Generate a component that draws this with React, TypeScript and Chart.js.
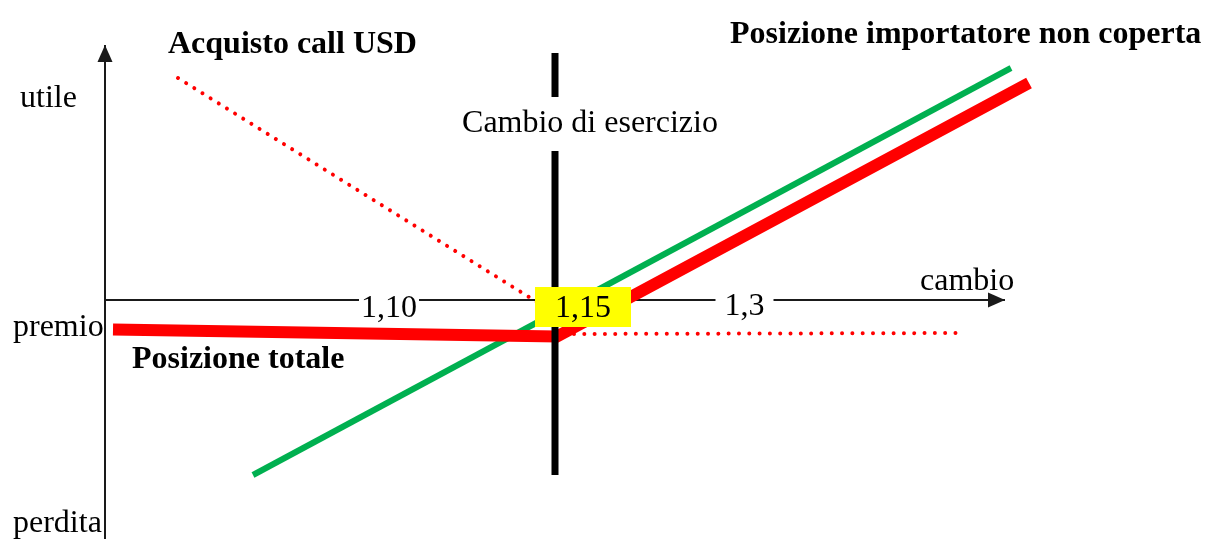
import React, { useEffect, useRef } from "react";
import { Chart, registerables } from "chart.js";

Chart.register(...registerables);

// Schematic units: x = exchange rate axis (arbitrary units), y = profit / loss
const yAxisLine = [{ x: 0, y: -23.9 }, { x: 0, y: 25.5 }];
const xAxisLine = [{ x: 0, y: 0 }, { x: 90, y: 0 }];
const strikeLine = [{ x: 45, y: -17.5 }, { x: 45, y: 24.7 }];
const unhedgedPosition = [{ x: 14.8, y: -17.5 }, { x: 90.6, y: 23.2 }];
const totalPosition = [{ x: 0.8, y: -2.95 }, { x: 45.2, y: -3.65 }, { x: 92.4, y: 21.7 }];
const callPayoffLeft = [{ x: 7.3, y: 22.2 }, { x: 44.8, y: -1.2 }];
const callPayoffRight = [{ x: 46.9, y: -3.4 }, { x: 85.8, y: -3.3 }];

const tickLabels = ["1,10", "1,15", "1,3"];
const tickValues = [28.4, 47.8, 63.95];

const yLabels = ["utile", "premio", "perdita"];
const yLabelValues = [19.3, -3.6, -23.2];

const FONT = '"Liberation Serif", "Times New Roman", serif';
const FS = 32;

type Ann = {
  text: string;
  x: number;
  y: number;
  bold?: boolean;
  align?: "left" | "center";
  bg?: string;
  padX?: number;
  top?: number;
  bottom?: number;
};

const annotations: Ann[] = [
  { text: "Acquisto call USD", x: 6.3, y: 24.7, bold: true },
  { text: "Posizione importatore non coperta", x: 62.5, y: 25.7, bold: true },
  { text: "Posizione totale", x: 2.7, y: -6.8, bold: true },
  { text: "Cambio di esercizio", x: 48.5, y: 16.8, align: "center", bg: "#ffffff", padX: 3, top: 35, bottom: 19 },
  { text: "cambio", x: 81.5, y: 1.0 },
  { text: yLabels[0], x: -8.5, y: yLabelValues[0] },
  { text: yLabels[1], x: -9.2, y: yLabelValues[1] },
  { text: yLabels[2], x: -9.2, y: yLabelValues[2] },
  { text: tickLabels[0], x: tickValues[0], y: -1.7, align: "center", bg: "#ffffff", padX: 2, top: 24, bottom: 0 },
  { text: tickLabels[1], x: tickValues[1], y: -1.7, align: "center", bg: "#ffff00", padX: 20, top: 30, bottom: 10 },
  { text: tickLabels[2], x: tickValues[2], y: -1.5, align: "center", bg: "#ffffff", padX: 9, top: 24, bottom: 0 },
];

const overlayPlugin = {
  id: "overlay",
  afterDatasetsDraw(chart: any) {
    const { ctx } = chart;
    const sx = chart.scales.x;
    const sy = chart.scales.y;
    const px = (v: number) => sx.getPixelForValue(v);
    const py = (v: number) => sy.getPixelForValue(v);
    ctx.save();
    // arrow heads
    ctx.fillStyle = "#1a1a1a";
    const arrow = (a: any, b: any) => {
      const x1 = px(a.x), y1 = py(a.y), x2 = px(b.x), y2 = py(b.y);
      const ang = Math.atan2(y2 - y1, x2 - x1);
      const len = 17, hw = 7.5;
      ctx.beginPath();
      ctx.moveTo(x2, y2);
      ctx.lineTo(x2 - len * Math.cos(ang) + hw * Math.sin(ang), y2 - len * Math.sin(ang) - hw * Math.cos(ang));
      ctx.lineTo(x2 - len * Math.cos(ang) - hw * Math.sin(ang), y2 - len * Math.sin(ang) + hw * Math.cos(ang));
      ctx.closePath();
      ctx.fill();
    };
    arrow(yAxisLine[0], yAxisLine[1]);
    arrow(xAxisLine[0], xAxisLine[1]);
    // texts
    ctx.textBaseline = "alphabetic";
    for (const a of annotations) {
      ctx.font = `${a.bold ? "bold " : ""}${FS}px ${FONT}`;
      const w = ctx.measureText(a.text).width;
      const cx = px(a.x);
      const by = py(a.y);
      const left = a.align === "center" ? cx - w / 2 : cx;
      if (a.bg) {
        const pX = a.padX ?? 0;
        ctx.fillStyle = a.bg;
        ctx.fillRect(left - pX, by - (a.top ?? 0), w + 2 * pX, (a.top ?? 0) + (a.bottom ?? 0));
      }
      ctx.fillStyle = "#000000";
      ctx.textAlign = "left";
      ctx.fillText(a.text, left, by);
    }
    ctx.restore();
  },
};

export default function App() {
  const ref = useRef<HTMLCanvasElement | null>(null);
  useEffect(() => {
    if (!ref.current) return;
    const mk = (data: any[], color: string, width: number, order: number, extra: any = {}) => ({
      data,
      showLine: true,
      borderColor: color,
      backgroundColor: color,
      borderWidth: width,
      pointRadius: 0,
      pointHoverRadius: 0,
      tension: 0,
      fill: false,
      clip: false,
      order,
      borderCapStyle: "butt",
      borderJoinStyle: "miter",
      ...extra,
    });
    const chart = new Chart(ref.current, {
      type: "scatter",
      data: {
        datasets: [
          mk(yAxisLine, "#1a1a1a", 2, 7),
          mk(xAxisLine, "#1a1a1a", 2, 7),
          mk(unhedgedPosition, "#00b050", 6, 5),
          mk(totalPosition, "#ff0000", 12, 4),
          mk(callPayoffLeft, "#ff0000", 4, 3, { borderDash: [0.01, 9.6], borderCapStyle: "round" }),
          mk(callPayoffRight, "#ff0000", 4, 3, { borderDash: [0.01, 10.3], borderCapStyle: "round" }),
          mk(strikeLine, "#000000", 7, 2),
        ] as any,
      },
      options: {
        animation: false,
        responsive: true,
        maintainAspectRatio: false,
        layout: { padding: 0 },
        plugins: { legend: { display: false }, tooltip: { enabled: false } },
        events: [],
        scales: {
          x: { type: "linear", min: -10.5, max: 110.1, display: false },
          y: { type: "linear", min: -23.9, max: 30, display: false },
        },
      },
      plugins: [overlayPlugin],
    });
    return () => chart.destroy();
  }, []);
  return (
    <div style={{ position: "fixed", left: 0, top: 0, width: 1206, height: 539, background: "#ffffff" }}>
      <canvas ref={ref} />
    </div>
  );
}
